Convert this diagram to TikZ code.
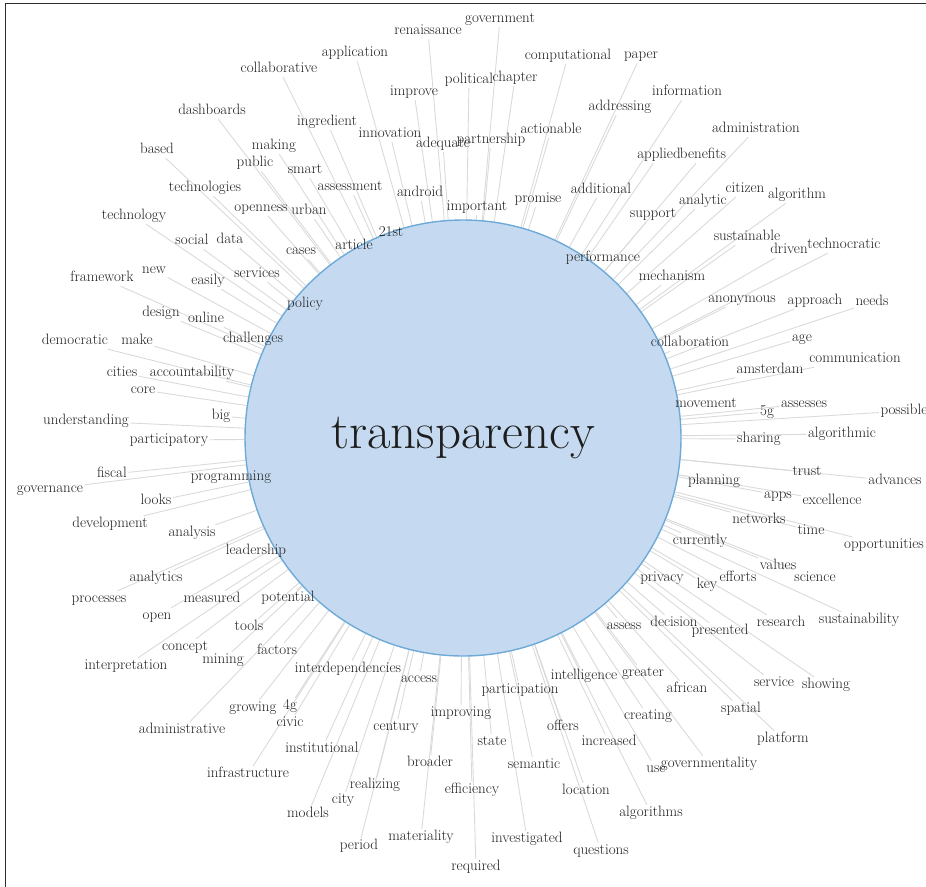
\documentclass[tikz,border=0pt]{standalone}
\usetikzlibrary{backgrounds}
\definecolor{hubfill}{RGB}{197,218,240}
\definecolor{hubline}{RGB}{110,170,215}
\definecolor{linkgray}{RGB}{218,218,218}
\definecolor{wordcol}{RGB}{30,30,30}
\definecolor{framecol}{RGB}{45,45,45}
\def\mywords{279/69/collaborative, 212/111/dashboards, 157/150/based, 274/146/making, 255/163/public, 305/170/smart, 205/188/technologies, 261/208/openness, 309/211/urban, 134/216/technology, 192/241/social, 230/240/data, 301/251/cases, 102/278/framework, 154/270/new, 208/281/easily, 257/274/services, 305/304/policy, 161/313/design, 206/319/online, 253/339/challenges, 75/341/democratic, 137/341/make, 122/373/cities, 192/373/accountability, 143/390/core, 221/416/big, 86/421/understanding, 169/440/participatory, 112/474/fiscal, 231/477/programming, 50/489/governance, 156/501/looks, 110/524/development, 192/533/analysis, 256/551/leadership, 156/578/analytics, 99/599/processes, 212/599/measured, 288/598/potential, 157/616/open, 249/627/tools, 185/647/concept, 223/660/mining, 277/651/factors, 126/666/interpretation, 253/708/growing, 290/706/4g, 290/723/civic, 182/730/administrative, 248/774/infrastructure,
500/19/government, 428/31/renaissance, 355/53/application, 568/56/computational, 469/80/political, 515/78/chapter, 414/92/improve, 620/107/addressing, 327/122/ingredient, 390/134/innovation, 443/144/adequate, 491/140/partnership, 551/130/actionable, 350/187/assessment, 420/193/android, 477/207/important, 538/199/promise, 601/190/additional, 391/233/21st, 354/246/article, 603/258/performance,
641/55/paper, 687/92/information, 756/129/administration, 659/155/applied, 703/155/benefits, 745/189/citizen, 797/195/algorithm, 703/201/analytic, 653/214/support, 747/237/sustainable, 789/250/driven, 844/245/technocratic, 672/277/mechanism, 742/299/anonymous, 815/301/approach, 872/302/needs, 690/343/collaboration, 802/338/age, 855/359/communication, 770/370/amsterdam, 706/404/movement, 767/412/5g, 804/404/assesses, 904/411/possible, 759/439/sharing, 842/434/algorithmic, 807/472/trust, 895/481/advances, 714/481/planning, 778/495/apps, 832/501/excellence, 759/520/networks, 811/531/time, 700/541/currently, 884/545/opportunities, 778/566/values, 815/578/science, 662/578/privacy, 707/585/key, 738/578/efforts, 624/626/assess, 674/623/decision, 720/631/presented, 781/623/research, 859/620/sustainability, 643/673/greater, 687/689/african, 774/683/service, 826/685/showing, 741/709/spatial, 648/716/creating, 783/739/platform, 609/742/increased, 656/769/use, 709/764/governmentality, 651/813/algorithms, 601/851/questions,
348/669/interdependencies, 419/679/access, 584/676/intelligence, 520/690/participation, 461/713/improving, 396/727/century, 563/727/offers, 322/749/institutional, 492/742/state, 430/763/broader, 534/765/semantic, 375/785/realizing, 343/800/city, 472/790/efficiency, 586/791/location, 308/814/models, 359/846/period, 421/837/materiality, 527/839/investigated, 476/867/required}
\begin{document}
\begin{tikzpicture}[x=1pt,y=-1pt,
  word/.style={font=\fontsize{15}{17}\selectfont, text=wordcol, inner sep=1.5pt, text height=10pt, text depth=3pt},
  link/.style={draw=linkgray, line width=0.9pt},
  hub/.style={circle, fill=hubfill, draw=hubline, line width=1.4pt, minimum size=436pt, inner sep=0pt, font=\fontsize{51}{55}\selectfont, text=wordcol}]
\useasboundingbox (0,0) rectangle (926,886);
\node[hub] (hub) at (463,438) {transparency};
\foreach \x/\y/\w in \mywords {\node[word] (\w) at (\x,\y) {\w};}
\begin{scope}[on background layer]
\foreach \x/\y/\w in \mywords {\draw[link] (hub) -- (\w);}
\end{scope}
\draw[framecol, line width=1.6pt] (5.5,3.5) rectangle (940,900);
\end{tikzpicture}
\end{document}
